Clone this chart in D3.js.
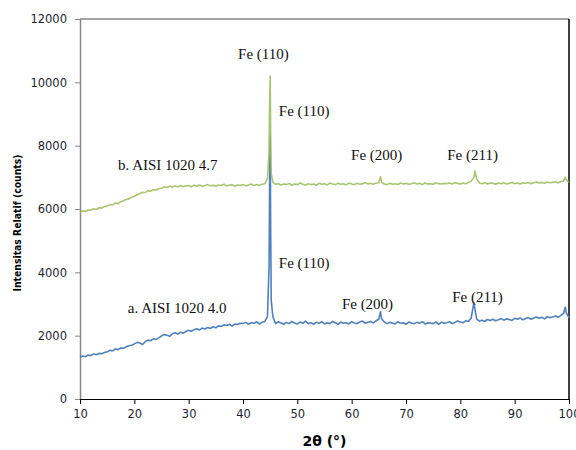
<!DOCTYPE html>
<html lang="en">
  <head>
    <meta charset="UTF-8"/>
    <title>XRD AISI 1020</title>
    <script src="https://d3js.org/d3.v7.min.js"></script>
    <style>
      body { margin: 0; background: #fff; }
      .tick text {
        font: 11.5px "DejaVu Sans", sans-serif;
        fill: #1e1e30;
      }
      .axis-label {
        font-family: "DejaVu Sans", sans-serif;
        font-weight: bold;
        fill: #000;
      }
      .anno {
        font: 15px "Liberation Serif", "Times New Roman", serif;
        fill: #111;
      }
      .series { fill: none; stroke-width: 1.6; stroke-linejoin: round; }
    </style>
  </head>
  <body>
    <script type="text/javascript">

      // 2-theta positions (degrees)
      const twoTheta = [
        10, 10.5, 11, 11.5, 12, 12.5, 13, 13.5, 14, 14.5,
        15, 15.5, 16, 16.5, 17, 17.5, 18, 18.5, 19, 19.5,
        20, 20.5, 21, 21.5, 22, 22.5, 23, 23.5, 24, 24.5,
        25, 25.5, 26, 26.5, 27, 27.5, 28, 28.5, 29, 29.5,
        30, 30.5, 31, 31.5, 32, 32.5, 33, 33.5, 34, 34.5,
        35, 35.5, 36, 36.5, 37, 37.5, 38, 38.5, 39, 39.5,
        40, 40.5, 41, 41.5, 42, 42.5, 43, 43.5, 44, 44.5,
        44.8, 44.9, 45, 45.1, 45.2, 45.5, 46, 46.5, 47, 47.5,
        48, 48.5, 49, 49.5, 50, 50.5, 51, 51.5, 52, 52.5,
        53, 53.5, 54, 54.5, 55, 55.5, 56, 56.5, 57, 57.5,
        58, 58.5, 59, 59.5, 60, 60.5, 61, 61.5, 62, 62.5,
        63, 63.5, 64, 64.5, 65, 65.3, 65.5, 66, 66.5, 67,
        67.5, 68, 68.5, 69, 69.5, 70, 70.5, 71, 71.5, 72,
        72.5, 73, 73.5, 74, 74.5, 75, 75.5, 76, 76.5, 77,
        77.5, 78, 78.5, 79, 79.5, 80, 80.5, 81, 81.5, 82,
        82.5, 82.7, 83, 83.5, 84, 84.5, 85, 85.5, 86, 86.5,
        87, 87.5, 88, 88.5, 89, 89.5, 90, 90.5, 91, 91.5,
        92, 92.5, 93, 93.5, 94, 94.5, 95, 95.5, 96, 96.5,
        97, 97.5, 98, 98.5, 99, 99.3, 99.5, 100
      ]

      // a. AISI 1020 4.0 (blue)
      const intensityA = [
        1310, 1360, 1340, 1390, 1370, 1420, 1400, 1440, 1430, 1470,
        1490, 1540, 1520, 1580, 1560, 1610, 1600, 1650, 1680, 1700,
        1740, 1790, 1770, 1720, 1810, 1860, 1840, 1900, 1880, 1930,
        1990, 2040, 2010, 1980, 2060, 2090, 2050, 2110, 2080, 2130,
        2170, 2140, 2190, 2220, 2180, 2240, 2210, 2260, 2230, 2280,
        2250, 2310, 2290, 2340, 2320, 2360, 2300, 2370, 2350, 2390,
        2380, 2420, 2360, 2410, 2390, 2440, 2370, 2420, 2450, 2600,
        4200, 6800, 8300, 5200, 3100, 2600, 2380, 2440, 2400, 2360,
        2420, 2380, 2450, 2400, 2370, 2430, 2390, 2460, 2380, 2410,
        2360, 2420, 2390, 2440, 2370, 2410, 2380, 2450, 2400, 2360,
        2430, 2390, 2410, 2370, 2440, 2400, 2380, 2430, 2460, 2390,
        2420, 2450, 2400, 2470, 2520, 2760, 2540, 2430, 2380, 2420,
        2400, 2370, 2440, 2390, 2410, 2360, 2430, 2400, 2380, 2420,
        2390, 2440, 2370, 2410, 2400, 2380, 2430, 2360, 2420, 2390,
        2410, 2440, 2380, 2420, 2460, 2430, 2410, 2470, 2450, 2560,
        3050, 2820, 2530, 2460, 2490, 2450, 2510, 2480, 2520, 2470,
        2500, 2540, 2490, 2530, 2510, 2480, 2550, 2520, 2560, 2500,
        2540, 2570, 2520, 2560, 2590, 2550, 2580, 2530, 2600, 2570,
        2590, 2620, 2580, 2640, 2700, 2900, 2720, 2560
      ]

      // b. AISI 1020 4.7 (green)
      const intensityB = [
        5890, 5940, 5920, 5970, 5960, 6010, 5990, 6040, 6030, 6080,
        6090, 6140, 6130, 6190, 6170, 6230, 6260, 6300, 6320, 6370,
        6400, 6450, 6480, 6530, 6520, 6580, 6560, 6610, 6600, 6640,
        6650, 6700, 6680, 6720, 6690, 6730, 6700, 6740, 6710, 6730,
        6740, 6700, 6750, 6720, 6760, 6710, 6740, 6770, 6730, 6750,
        6720, 6760, 6740, 6780, 6730, 6750, 6770, 6720, 6760, 6740,
        6770, 6730, 6760, 6790, 6740, 6770, 6750, 6780, 6800, 6950,
        7800, 9400, 10200, 8200, 7100, 6850, 6780, 6800, 6760, 6790,
        6770, 6810, 6750, 6790, 6770, 6820, 6780, 6760, 6800, 6770,
        6790, 6750, 6810, 6780, 6800, 6760, 6820, 6790, 6770, 6810,
        6780, 6800, 6760, 6820, 6790, 6770, 6810, 6780, 6800, 6830,
        6790, 6810, 6780, 6820, 6830, 7020, 6850, 6790, 6770, 6810,
        6780, 6800, 6770, 6820, 6790, 6810, 6780, 6800, 6830, 6790,
        6810, 6770, 6820, 6790, 6800, 6780, 6830, 6800, 6790, 6810,
        6800, 6820, 6790, 6830, 6810, 6790, 6820, 6800, 6840, 6880,
        7000, 7200, 6950, 6820, 6800, 6830, 6790, 6820, 6810, 6780,
        6820, 6800, 6830, 6790, 6810, 6840, 6800, 6820, 6790, 6830,
        6810, 6840, 6800, 6830, 6850, 6820, 6840, 6810, 6850, 6830,
        6840, 6860, 6830, 6870, 6880, 7000, 6920, 6840
      ]

      const xTicks = [10, 20, 30, 40, 50, 60, 70, 80, 90, 100]
      const yTicks = [0, 2000, 4000, 6000, 8000, 10000, 12000]

      // annotation text with anchor in data units (2θ, counts)
      const annoText = ["Fe (110)", "Fe (110)", "b. AISI 1020 4.7", "Fe (200)", "Fe (211)",
                        "Fe (110)", "a. AISI 1020 4.0", "Fe (200)", "Fe (211)"]
      const annoX = [39.1, 46.6, 17.0, 59.9, 77.6, 46.6, 18.8, 58.2, 78.5]
      const annoY = [10740, 8940, 7230, 7550, 7550, 4140, 2720, 2840, 3060]

      const outerWidth = 576,
            outerHeight = 450,
            margin = ({top: 19, right: 7, bottom: 51, left: 80}),
            width = outerWidth - margin.left - margin.right,
            height = outerHeight - margin.top - margin.bottom

      const svg = d3.select("body").append("svg")
          .attr("width", outerWidth)
          .attr("height", outerHeight)

      const g = svg.append("g")
          .attr("transform", `translate(${margin.left},${margin.top})`)

      const xScale = d3.scaleLinear().domain([10, 100]).range([0, width])
      const yScale = d3.scaleLinear().domain([0, 12000]).range([height, 0])

      // frame: top + left grey, bottom + right black
      g.append("line").attr("x1", 0).attr("x2", width).attr("y1", 0).attr("y2", 0)
          .attr("stroke", "#868686").attr("stroke-width", 1.5)
      g.append("line").attr("x1", width).attr("x2", width).attr("y1", 0).attr("y2", height)
          .attr("stroke", "#000").attr("stroke-width", 1.5)

      const yAxisG = g.append("g")
          .call(d3.axisLeft(yScale).tickValues(yTicks).tickFormat(d3.format("d"))
                .tickSize(5).tickSizeOuter(0).tickPadding(8))
      yAxisG.select(".domain").attr("stroke", "#868686").attr("stroke-width", 1.5)
      yAxisG.selectAll(".tick line").attr("stroke", "#868686")

      const xAxisG = g.append("g")
          .attr("transform", `translate(0,${height})`)
          .call(d3.axisBottom(xScale).tickValues(xTicks).tickSize(5).tickSizeOuter(0).tickPadding(6))
      xAxisG.select(".domain").attr("stroke", "#000").attr("stroke-width", 1.2)

      const line = (vals) => d3.line()
          .x((d, i) => xScale(twoTheta[i]))
          .y(d => yScale(d))(vals)

      g.append("path").attr("class", "series")
          .attr("stroke", "#4f81bd")
          .attr("d", line(intensityA))

      g.append("path").attr("class", "series")
          .attr("stroke", "#9bbb59")
          .attr("stroke-opacity", 0.85)
          .attr("d", line(intensityB))

      g.selectAll(".anno")
          .data(annoText)
          .join("text")
          .attr("class", "anno")
          .attr("x", (d, i) => xScale(annoX[i]))
          .attr("y", (d, i) => yScale(annoY[i]))
          .text(d => d)

      svg.append("text")
          .attr("class", "axis-label")
          .attr("text-anchor", "middle")
          .attr("transform", `translate(21,223) rotate(-90)`)
          .attr("textLength", 137)
          .attr("lengthAdjust", "spacingAndGlyphs")
          .style("font-size", "10.5px")
          .text("Intensitas Relatif (counts)")

      svg.append("text")
          .attr("class", "axis-label")
          .attr("text-anchor", "middle")
          .attr("x", margin.left + width / 2)
          .attr("y", 446)
          .style("font-size", "14px")
          .text("2θ (°)")

    </script>
  </body>
</html>
